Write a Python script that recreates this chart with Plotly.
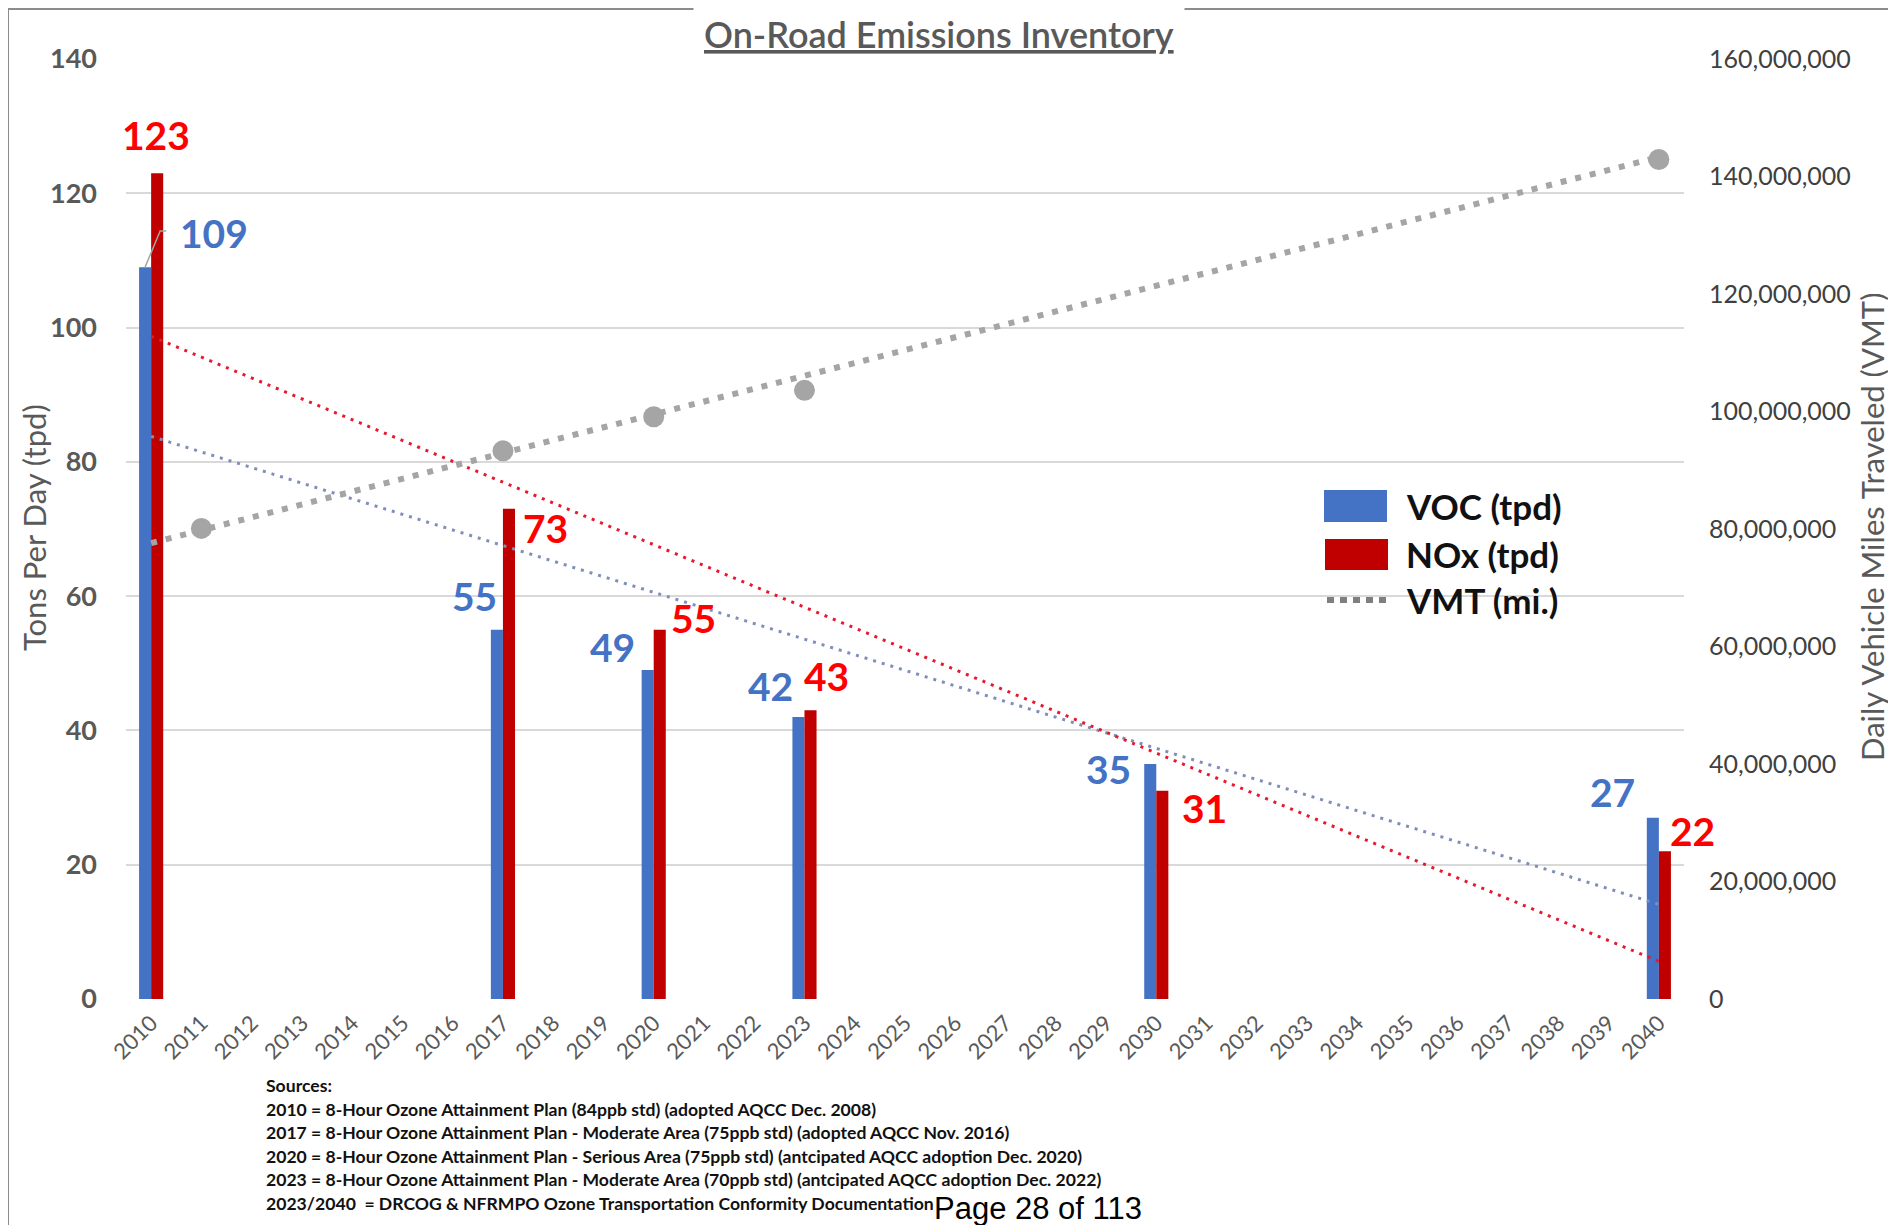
import plotly.graph_objects as go

# ---- data ----
year_labels = ["2010", "2011", "2012", "2013", "2014", "2015", "2016", "2017",
               "2018", "2019", "2020", "2021", "2022", "2023", "2024", "2025",
               "2026", "2027", "2028", "2029", "2030", "2031", "2032", "2033",
               "2034", "2035", "2036", "2037", "2038", "2039", "2040"]
emission_years = [2010, 2017, 2020, 2023, 2030, 2040]
voc_tpd = [109, 55, 49, 42, 35, 27]
nox_tpd = [123, 73, 55, 43, 31, 22]

vmt_years = [2011, 2017, 2020, 2023, 2040]
vmt_miles = [80_100_000, 93_300_000, 99_100_000, 103_600_000, 142_900_000]

# trend lines (Excel linear trendlines), start/end values
trend_years = [2010, 2040]
voc_trend = [83.8, 14.1]
nox_trend = [98.7, 5.6]
vmt_trend = [77_600_000, 143_300_000]

sources = [
    "Sources:",
    "2010 = 8-Hour Ozone Attainment Plan (84ppb std) (adopted AQCC Dec. 2008)",
    "2017 = 8-Hour Ozone Attainment Plan - Moderate Area (75ppb std) (adopted AQCC Nov. 2016)",
    "2020 = 8-Hour Ozone Attainment Plan - Serious Area (75ppb std) (antcipated AQCC adoption Dec. 2020)",
    "2023 = 8-Hour Ozone Attainment Plan - Moderate Area (70ppb std) (antcipated AQCC adoption Dec. 2022)",
    "2023/2040  = DRCOG & NFRMPO Ozone Transportation Conformity Documentation",
]

# label offsets (px) used to mimic Excel's manually dragged data labels
voc_label_shift = [(63, 34), (-28, 34), (-41, 23), (-34, 31), (-48, -5), (-46, 26)]
nox_label_shift = [(5, 38), (43, -19), (40, 12), (22, 34), (48, -17), (34, 20)]

VOC_BLUE = "#4472C4"
NOX_RED = "#C00000"
LABEL_RED = "#FF0000"
VMT_GRAY = "#A5A5A5"
AXIS_GRAY = "#595959"

# the html body has an 8px margin, so the figure starts at (8, 8) on the page
OFF = 8
W_PX, H_PX = 1896 - OFF, 1225 - OFF
PLOT_LEFT, PLOT_RIGHT, PLOT_TOP, PLOT_BOTTOM = 126, 1684, 59, 999  # page px
L = PLOT_LEFT - OFF
T = PLOT_TOP - OFF
R = W_PX - (PLOT_RIGHT - OFF)
B = H_PX - (PLOT_BOTTOM - OFF)
PLOT_W = PLOT_RIGHT - PLOT_LEFT
PLOT_H = PLOT_BOTTOM - PLOT_TOP


def px_x(p):
    return (p - PLOT_LEFT) / PLOT_W


def px_y(p):
    return (PLOT_BOTTOM - p) / PLOT_H


BAR_W = 0.24

fig = go.Figure()
fig.add_trace(go.Bar(x=emission_years, y=voc_tpd, width=BAR_W, offset=-BAR_W,
                     marker=dict(color=VOC_BLUE, line=dict(width=0)), name="VOC (tpd)"))
fig.add_trace(go.Bar(x=emission_years, y=nox_tpd, width=BAR_W, offset=0,
                     marker=dict(color=NOX_RED, line=dict(width=0)), name="NOx (tpd)"))

fig.add_trace(go.Scatter(x=trend_years, y=voc_trend, mode="lines",
                         line=dict(color="#7F8FBA", width=3, dash="3px,6px")))
fig.add_trace(go.Scatter(x=trend_years, y=nox_trend, mode="lines",
                         line=dict(color="#E8182E", width=3, dash="3px,6px")))
fig.add_trace(go.Scatter(x=trend_years, y=vmt_trend, mode="lines", yaxis="y2",
                         line=dict(color=VMT_GRAY, width=6, dash="6px,9px")))
fig.add_trace(go.Scatter(x=vmt_years, y=vmt_miles, mode="markers", yaxis="y2",
                         marker=dict(color=VMT_GRAY, size=21), name="VMT (mi.)"))

annotations = []
for yr, v, (dx, dy) in zip(emission_years, voc_tpd, voc_label_shift):
    annotations.append(dict(x=yr, y=v, xref="x", yref="y", text=str(v), showarrow=False,
                            xshift=dx, yshift=dy,
                            font=dict(family="Lato", size=39, color=VOC_BLUE, weight="bold")))
for yr, v, (dx, dy) in zip(emission_years, nox_tpd, nox_label_shift):
    annotations.append(dict(x=yr, y=v, xref="x", yref="y", text=str(v), showarrow=False,
                            xshift=dx, yshift=dy,
                            font=dict(family="Lato", size=39, color=LABEL_RED, weight="bold")))

# title with white box breaking the top gridline
annotations.append(dict(x=px_x(939), y=px_y(34), xref="paper", yref="paper",
                        text="<u>On-Road Emissions Inventory</u>", showarrow=False,
                        xanchor="center", yanchor="middle", bgcolor="white", borderpad=10,
                        font=dict(family="Lato", size=36, color=AXIS_GRAY, weight=600)))

# axis titles
annotations.append(dict(x=px_x(34), y=px_y(528), xref="paper", yref="paper",
                        text="Tons Per Day (tpd)", textangle=-90, showarrow=False,
                        xanchor="center", yanchor="middle",
                        font=dict(family="Lato", size=31, color=AXIS_GRAY)))
annotations.append(dict(x=px_x(1872), y=px_y(527), xref="paper", yref="paper",
                        text="Daily Vehicle Miles Traveled (VMT)", textangle=-90, showarrow=False,
                        xanchor="center", yanchor="middle",
                        font=dict(family="Lato", size=31, color=AXIS_GRAY)))

# manual legend (Excel uses large swatches)
legend_items = [("VOC (tpd)", 506), ("NOx (tpd)", 554), ("VMT (mi.)", 600)]
for txt, yc in legend_items:
    annotations.append(dict(x=px_x(1404), y=px_y(yc), xref="paper", yref="paper",
                            text=txt, showarrow=False, xanchor="left", yanchor="middle",
                            font=dict(family="Lato", size=35, color="#111111", weight="bold")))

# sources block
source_y = [1085, 1109, 1132, 1156, 1179, 1203]
for txt, yc in zip(sources, source_y):
    annotations.append(dict(x=px_x(264), y=px_y(yc), xref="paper", yref="paper",
                            text=txt, showarrow=False, xanchor="left", yanchor="middle",
                            font=dict(family="Lato", size=17.6, color="#111111", weight="bold")))

annotations.append(dict(x=px_x(932), y=px_y(1208), xref="paper", yref="paper",
                        text="Page 28 of 113", showarrow=False, xanchor="left", yanchor="middle",
                        font=dict(family="Liberation Sans", size=31, color="black")))

shapes = [
    # page frame
    dict(type="rect", xref="paper", yref="paper", x0=px_x(8), x1=px_x(1891),
         y0=px_y(1240), y1=px_y(9), fillcolor="white", layer="below",
         line=dict(color="#8C8C8C", width=2)),
    # legend swatches
    dict(type="rect", xref="paper", yref="paper", x0=px_x(1324), x1=px_x(1387),
         y0=px_y(522), y1=px_y(490), fillcolor=VOC_BLUE, line=dict(width=0)),
    dict(type="rect", xref="paper", yref="paper", x0=px_x(1325), x1=px_x(1388),
         y0=px_y(570), y1=px_y(539), fillcolor=NOX_RED, line=dict(width=0)),
    dict(type="line", xref="paper", yref="paper", x0=px_x(1327), x1=px_x(1387),
         y0=px_y(600), y1=px_y(600), line=dict(color="#7F7F7F", width=6, dash="7px,6px")),
    # leader line for the 109 label
    dict(type="path", xref="x", yref="y", line=dict(color="#A5A5A5", width=1.5),
         path=f"M {emission_years[0] - 0.12},{voc_tpd[0]} "
              f"L {emission_years[0] + 0.18},{voc_tpd[0] + 5.4} "
              f"L {emission_years[0] + 0.3},{voc_tpd[0] + 5.4}"),
]

fig.update_layout(
    width=W_PX, height=H_PX,
    margin=dict(l=L, r=R, t=T, b=B, pad=0),
    paper_bgcolor="#F4F4F4", plot_bgcolor="white",
    barmode="overlay", showlegend=False,
    font=dict(family="Lato", color=AXIS_GRAY),
    annotations=annotations, shapes=shapes,
    xaxis=dict(type="linear", range=[2009.5, 2040.5],
               tickvals=[int(y) for y in year_labels], ticktext=year_labels,
               tickangle=-45, tickfont=dict(family="Lato", size=22, color=AXIS_GRAY),
               showgrid=False, zeroline=False, showline=False, ticks="",
               ticklabelstandoff=6),
    yaxis=dict(range=[0, 140], tickvals=[0, 20, 40, 60, 80, 100, 120, 140],
               showgrid=True, gridcolor="#D9D9D9", gridwidth=2, zeroline=False,
               showline=False, ticks="", ticklabelstandoff=28,
               tickfont=dict(family="Lato", size=27, color=AXIS_GRAY, weight="bold")),
    yaxis2=dict(overlaying="y", side="right", range=[0, 160_000_000],
                tickvals=[0, 20e6, 40e6, 60e6, 80e6, 100e6, 120e6, 140e6, 160e6],
                tickformat=",", showgrid=False, zeroline=False, showline=False,
                ticks="", ticklabelstandoff=24,
                tickfont=dict(family="Lato", size=25, color="#404040")),
)

fig.write_html("out.html")
